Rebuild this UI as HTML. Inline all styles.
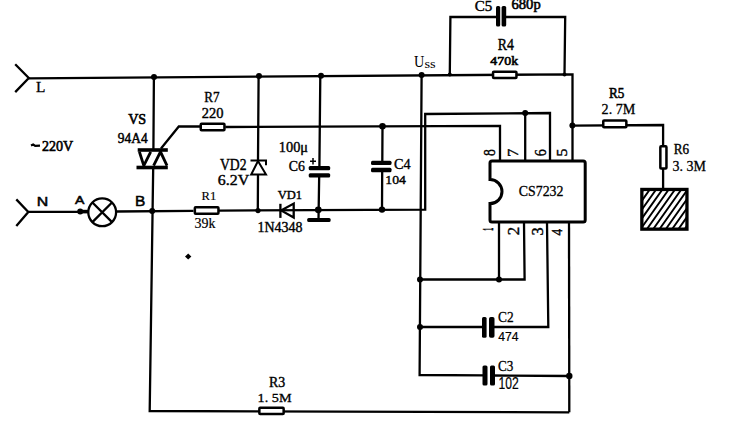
<!DOCTYPE html>
<html><head><meta charset="utf-8">
<style>
html,body{margin:0;padding:0;background:#fff;width:735px;height:430px;overflow:hidden}
svg{display:block}
</style></head><body>
<svg width="735" height="430" viewBox="0 0 735 430">
<g stroke="#000" stroke-width="2.3" fill="none" stroke-linecap="butt" stroke-linejoin="miter">
<!-- L connector -->
<path d="M15.2,64.2 L28.8,78 L15.2,92.1"/>
<!-- top L wire -->
<path d="M28.8,78.3 L572.5,74.3 L572.5,160.6"/>
<!-- C5 loop -->
<path d="M449.8,74.6 L450.4,17 L498.1,17 M504.2,17 L565.2,17 L564.5,74.4"/>
<!-- N connector -->
<path d="M16.3,199.4 L28.3,212 L16.3,226.1"/>
<path d="M28.3,211.8 L88,211.8"/>
<path d="M79,211.6 L88.5,211.6" stroke-width="3.6"/>
<!-- lamp -->
<circle cx="102.2" cy="212.3" r="13.9"/>
<path d="M92.4,202.5 L112,222.1 M112,202.5 L92.4,222.1"/>
<path d="M116.5,211.5 L193.5,210.8"/>
<!-- VS vertical -->
<path d="M153.9,77 L153.4,150 M153.2,167.5 L149.7,411 L569.3,412.3"/>
<!-- R7 gate -->
<path d="M161,148.5 L178.8,126.5 L200,126.5"/>
<path d="M225.3,127 L500,125.8 L500,160.6"/>
<!-- VD2 -->
<path d="M258.6,76 L258,161 M258,174.6 L257.8,210.8"/>
<!-- C6 -->
<path d="M320.3,75.8 L319.4,167 M319.2,175 L318.5,220"/>
<!-- C4 -->
<path d="M382.5,126.5 L382.3,162 M382.2,170 L382,209.6"/>
<!-- ground wire -->
<path d="M218.8,210.6 L425.2,209.6 L425.2,114 L550,113 L550,160.6"/>
<path d="M525.2,113.1 L525.2,160.6"/>
<!-- Uss vertical -->
<path d="M421.6,75 L419.6,375 L485,375.3 M492,375.5 L569.3,376"/>
<path d="M569,222.2 L569.3,412.3"/>
<path d="M420,279.5 L524.6,279.5 L524,222.2"/>
<path d="M499,222.2 L499,279.5"/>
<path d="M420,327 L484,327 M491,327 L548.3,327 L547,222.2"/>
<!-- R5 / R6 -->
<path d="M572.4,125.6 L663.1,125 L663.1,188.4"/>
</g>
<!-- plates / thick bars -->
<g fill="#000">
<!-- triac bars -->
<rect x="137.7" y="148.2" width="30.1" height="3.6"/>
<rect x="136.5" y="165.7" width="31.3" height="3.6"/>
<!-- C5 plates -->
<rect x="496" y="6.1" width="4.2" height="20.4" rx="1.5"/>
<rect x="501.6" y="6.1" width="4.6" height="20.4" rx="1.5"/>
<!-- C6 plates -->
<rect x="308.7" y="165.9" width="21.5" height="4.4" rx="1.5"/>
<rect x="308.7" y="173.2" width="21.5" height="4.4" rx="1.5"/>
<!-- ground bar -->
<rect x="307.2" y="217.9" width="23.4" height="4" rx="1.5"/>
<!-- C4 plates -->
<rect x="371" y="160.7" width="20.5" height="4.2" rx="1.5"/>
<rect x="371" y="167.7" width="20.5" height="4.6" rx="1.5"/>
<!-- C2 plates -->
<rect x="482" y="316.9" width="4.6" height="20.9" rx="1.5"/>
<rect x="489" y="316.9" width="5.5" height="20.9" rx="1.8"/>
<!-- C3 plates -->
<rect x="482.5" y="365.6" width="5" height="19.9" rx="1.5"/>
<rect x="490" y="365.6" width="5" height="19.9" rx="1.5"/>
<!-- junction dots -->
<circle cx="154" cy="77" r="3.0"/>
<circle cx="259" cy="76" r="3.0"/>
<circle cx="321" cy="75.8" r="3.0"/>
<circle cx="421.6" cy="75" r="3.0"/>
<circle cx="449.8" cy="74.6" r="2"/>
<circle cx="564.5" cy="74.4" r="2"/>
<circle cx="80.2" cy="211.5" r="3.0"/>
<circle cx="152.2" cy="211" r="3.0"/>
<circle cx="258" cy="210.6" r="2.6"/>
<circle cx="318.3" cy="209.8" r="3.4"/>
<circle cx="382" cy="209.6" r="3.2"/>
<circle cx="382.5" cy="126.3" r="3.3"/>
<circle cx="525.2" cy="113" r="3"/>
<circle cx="572.4" cy="125.6" r="3.0"/>
<circle cx="420" cy="279.5" r="3.0"/>
<circle cx="499" cy="279.5" r="3.0"/>
<circle cx="420" cy="327" r="3.0"/>
<circle cx="569.3" cy="376" r="3.2"/>
<path d="M188.2,253.6 L191.4,256.6 L188.2,259.6 L185,256.6Z"/>
</g>
<g stroke="#000" stroke-width="2" fill="none" stroke-linejoin="miter">
<path d="M310,161.2 L316,161.2 M313,158 L313,164.4" stroke-width="1.5"/>
<path d="M31,145.6 L33.2,144.6 L35.2,145.9 L40,145.6" stroke-width="2.2"/>
<!-- triac triangles -->
<path d="M139.4,151.8 L143.8,165.6 L150.7,151.8" stroke-width="2.8"/>
<path d="M153.6,165.6 L160.5,151.8 L167,165.6" stroke-width="2.8"/>
<!-- zener -->
<path d="M250.5,160.6 L266,160.6 L266,165.3"/>
<path d="M258,161 L251.2,174.6 L266,174.6 Z"/>
<!-- VD1 diode -->
<path d="M280.4,203.8 L280.4,217.9" stroke-width="2.3"/>
<path d="M281,210.4 L293.7,203.6 L293.7,217.6 Z" stroke-width="2.3"/>
<!-- resistors -->
<rect x="200.75" y="123.75" width="23.70" height="6.60" rx="0.8" fill="#fff" stroke-width="2.5"/>
<rect x="194.85" y="207.15" width="23.60" height="6.70" rx="0.8" fill="#fff" stroke-width="2.5"/>
<rect x="259.35" y="407.85" width="24.30" height="6.20" rx="0.8" fill="#fff" stroke-width="2.5"/>
<rect x="493.05" y="71.75" width="23.40" height="6.20" rx="0.8" fill="#fff" stroke-width="2.5"/>
<rect x="603.25" y="120.55" width="23.10" height="6.80" rx="0.8" fill="#fff" stroke-width="2.5"/>
<rect x="660.35" y="146.35" width="6.10" height="22.20" rx="0.8" fill="#fff" stroke-width="2.5"/>
</g>
<!-- IC body -->
<path d="M492,160.9 L583.2,160.9 Q585.2,160.9 585.2,162.9 L585.2,219.9 Q585.2,221.9 583.2,221.9 L492,221.9 Q490,221.9 490,219.9 L490,203.6 A12,12 0 0 0 490,179.6 L490,162.9 Q490,160.9 492,160.9 Z" stroke="#000" stroke-width="3" fill="#fff"/>
<!-- R6 box -->
<defs><clipPath id="hc"><rect x="642" y="189.5" width="45" height="39.5"/></clipPath></defs>
<g clip-path="url(#hc)" stroke="#000" stroke-width="1.9"><path d="M640.39,185 L604.93,235 M646.69,185 L611.23,235 M652.99,185 L617.53,235 M659.29,185 L623.83,235 M665.59,185 L630.13,235 M671.89,185 L636.43,235 M678.19,185 L642.73,235 M684.49,185 L649.03,235 M690.79,185 L655.33,235 M697.09,185 L661.63,235 M703.39,185 L667.93,235 M709.69,185 L674.23,235 M715.99,185 L680.53,235 M722.29,185 L686.83,235 M728.59,185 L693.13,235"/></g>
<rect x="641.85" y="189.45" width="45.1" height="39.7" stroke="#000" stroke-width="3.3" fill="none"/>


<g fill="#000">
<text transform="matrix(0.9901 0 0 1 35.89 91.95)" font-size="15.54" font-family="&quot;Liberation Serif&quot;" font-weight="normal" stroke="#000" stroke-width="0.3" xml:space="preserve">L</text>
<text transform="matrix(1.2321 0 0 1 36.68 206.45)" font-size="12.90" font-family="&quot;Liberation Sans&quot;" font-weight="normal" stroke="#000" stroke-width="0.5" xml:space="preserve">N</text>
<text transform="matrix(1.2627 0 0 1 74.95 203.95)" font-size="11.16" font-family="&quot;Liberation Sans&quot;" font-weight="normal" stroke="#000" stroke-width="0.5" xml:space="preserve">A</text>
<text transform="matrix(1.0675 0 0 1 135.11 206.35)" font-size="14.49" font-family="&quot;Liberation Sans&quot;" font-weight="normal" stroke="#000" stroke-width="0.5" xml:space="preserve">B</text>
<text transform="matrix(0.9708 0 0 1 41.94 150.71)" font-size="14.48" font-family="&quot;Liberation Serif&quot;" font-weight="normal" stroke="#000" stroke-width="0.6" xml:space="preserve">220V</text>
<text transform="matrix(1.0073 0 0 1 128.16 124.32)" font-size="14.03" font-family="&quot;Liberation Serif&quot;" font-weight="normal" stroke="#000" stroke-width="0.6" xml:space="preserve">VS</text>
<text transform="matrix(0.8974 0 0 1 117.85 143.20)" font-size="14.93" font-family="&quot;Liberation Serif&quot;" font-weight="normal" stroke="#000" stroke-width="0.5" xml:space="preserve">94A4</text>
<text transform="matrix(0.9000 0 0 1 204.31 102.00)" font-size="14.62" font-family="&quot;Liberation Serif&quot;" font-weight="normal" stroke="#000" stroke-width="0.4" xml:space="preserve">R7</text>
<text transform="matrix(1.0340 0 0 1 201.72 117.52)" font-size="14.03" font-family="&quot;Liberation Serif&quot;" font-weight="normal" stroke="#000" stroke-width="0.4" xml:space="preserve">220</text>
<text transform="matrix(1.0362 0 0 1 201.50 200.23)" font-size="12.20" font-family="&quot;Liberation Serif&quot;" font-weight="normal" stroke="#000" stroke-width="0.15" xml:space="preserve">R1</text>
<text transform="matrix(0.9800 0 0 1 194.50 227.66)" font-size="14.29" font-family="&quot;Liberation Serif&quot;" font-weight="normal" stroke="#000" stroke-width="0.2" xml:space="preserve">39k</text>
<text transform="matrix(0.8641 0 0 1 219.96 169.58)" font-size="15.82" font-family="&quot;Liberation Serif&quot;" font-weight="normal" stroke="#000" stroke-width="0.4" xml:space="preserve">VD2</text>
<text transform="matrix(1.0972 0 0 1 217.86 185.01)" font-size="14.48" font-family="&quot;Liberation Serif&quot;" font-weight="normal" stroke="#000" stroke-width="0.4" xml:space="preserve">6.2V</text>
<text transform="matrix(1.0130 0 0 1 277.77 198.55)" font-size="12.35" font-family="&quot;Liberation Serif&quot;" font-weight="normal" stroke="#000" stroke-width="0.4" xml:space="preserve">VD1</text>
<text transform="matrix(1.0007 0 0 1 257.44 231.62)" font-size="13.97" font-family="&quot;Liberation Serif&quot;" font-weight="normal" stroke="#000" stroke-width="0.4" xml:space="preserve">1N4348</text>
<text transform="matrix(1.0147 0 0 1 278.81 151.93)" font-size="14.14" font-family="&quot;Liberation Serif&quot;" font-weight="normal" stroke="#000" stroke-width="0.4" xml:space="preserve">100μ</text>
<text transform="matrix(0.8989 0 0 1 288.85 171.19)" font-size="15.37" font-family="&quot;Liberation Serif&quot;" font-weight="normal" stroke="#000" stroke-width="0.4" xml:space="preserve">C6</text>
<text transform="matrix(0.9259 0 0 1 393.93 169.49)" font-size="15.37" font-family="&quot;Liberation Serif&quot;" font-weight="normal" stroke="#000" stroke-width="0.4" xml:space="preserve">C4</text>
<text transform="matrix(1.0499 0 0 1 385.36 183.94)" font-size="13.09" font-family="&quot;Liberation Serif&quot;" font-weight="normal" stroke="#000" stroke-width="0.4" xml:space="preserve">104</text>
<text transform="matrix(0.8882 0 0 1 414.11 66.94)" font-size="16.06" font-family="&quot;Liberation Serif&quot;" font-weight="normal" xml:space="preserve">U</text>
<text transform="matrix(1.2150 0 0 1 424.42 67.78)" font-size="11.88" font-family="&quot;Liberation Serif&quot;" font-weight="normal" xml:space="preserve">ss</text>
<text transform="matrix(1.0839 0 0 1 474.70 10.72)" font-size="13.88" font-family="&quot;Liberation Serif&quot;" font-weight="normal" stroke="#000" stroke-width="0.4" xml:space="preserve">C5</text>
<text transform="matrix(1.0033 0 0 1 511.52 9.45)" font-size="14.53" font-family="&quot;Liberation Serif&quot;" font-weight="normal" stroke="#000" stroke-width="0.6" xml:space="preserve">680p</text>
<text transform="matrix(0.8486 0 0 1 497.78 49.50)" font-size="16.31" font-family="&quot;Liberation Serif&quot;" font-weight="normal" stroke="#000" stroke-width="0.4" xml:space="preserve">R4</text>
<text transform="matrix(1.0836 0 0 1 490.32 64.94)" font-size="12.82" font-family="&quot;Liberation Serif&quot;" font-weight="normal" stroke="#000" stroke-width="0.6" xml:space="preserve">470k</text>
<text transform="matrix(0.9989 0 0 1 518.80 195.57)" font-size="13.88" font-family="&quot;Liberation Serif&quot;" font-weight="normal" stroke="#000" stroke-width="0.3" xml:space="preserve">CS7232</text>
<text transform="matrix(0.8447 0 0 1 608.90 98.44)" font-size="15.61" font-family="&quot;Liberation Serif&quot;" font-weight="normal" stroke="#000" stroke-width="0.6" xml:space="preserve">R5</text>
<text transform="matrix(0.9720 0 0 1 601.58 114.40)" font-size="14.55" font-family="&quot;Liberation Serif&quot;" font-weight="normal" stroke="#000" stroke-width="0.3" xml:space="preserve">2. 7M</text>
<text transform="matrix(0.9375 0 0 1 673.81 154.22)" font-size="14.03" font-family="&quot;Liberation Serif&quot;" font-weight="normal" stroke="#000" stroke-width="0.4" xml:space="preserve">R6</text>
<text transform="matrix(0.9322 0 0 1 672.55 170.70)" font-size="15.00" font-family="&quot;Liberation Serif&quot;" font-weight="normal" stroke="#000" stroke-width="0.3" xml:space="preserve">3. 3M</text>
<text transform="matrix(0.8779 0 0 1 498.02 322.35)" font-size="15.22" font-family="&quot;Liberation Serif&quot;" font-weight="normal" stroke="#000" stroke-width="0.3" xml:space="preserve">C2</text>
<text transform="matrix(1.0084 0 0 1 498.26 340.62)" font-size="12.06" font-family="&quot;Liberation Sans&quot;" font-weight="normal" stroke="#000" stroke-width="0.2" xml:space="preserve">474</text>
<text transform="matrix(0.9554 0 0 1 498.03 370.58)" font-size="13.73" font-family="&quot;Liberation Serif&quot;" font-weight="normal" stroke="#000" stroke-width="0.3" xml:space="preserve">C3</text>
<text transform="matrix(0.7630 0 0 1 498.53 388.54)" font-size="15.92" font-family="&quot;Liberation Sans&quot;" font-weight="normal" stroke="#000" stroke-width="0.2" xml:space="preserve">102</text>
<text transform="matrix(0.9766 0 0 1 268.98 387.06)" font-size="14.24" font-family="&quot;Liberation Serif&quot;" font-weight="normal" stroke="#000" stroke-width="0.4" xml:space="preserve">R3</text>
<text transform="matrix(1.0593 0 0 1 257.57 402.32)" font-size="13.43" font-family="&quot;Liberation Serif&quot;" font-weight="normal" stroke="#000" stroke-width="0.3" xml:space="preserve">1. 5M</text>
<text transform="matrix(0 -0.8335 1 0 495.07 155.95)" font-size="16.57" font-family="&quot;Liberation Serif&quot;" font-weight="normal" stroke="#000" stroke-width="0.4" xml:space="preserve">8</text>
<text transform="matrix(0 -1.1685 1 0 518.30 156.72)" font-size="13.69" font-family="&quot;Liberation Serif&quot;" font-weight="normal" stroke="#000" stroke-width="0.4" xml:space="preserve">7</text>
<text transform="matrix(0 -0.8801 1 0 545.58 156.17)" font-size="16.12" font-family="&quot;Liberation Serif&quot;" font-weight="normal" stroke="#000" stroke-width="0.4" xml:space="preserve">6</text>
<text transform="matrix(0 -1.0353 1 0 566.65 156.56)" font-size="15.45" font-family="&quot;Liberation Serif&quot;" font-weight="normal" stroke="#000" stroke-width="0.4" xml:space="preserve">5</text>
<text transform="matrix(0 -0.3618 1 0 493.35 230.78)" font-size="14.78" font-family="&quot;Liberation Sans&quot;" font-weight="normal" stroke="#000" stroke-width="0.5" xml:space="preserve">1</text>
<text transform="matrix(0 -1.0271 1 0 518.80 235.37)" font-size="16.31" font-family="&quot;Liberation Serif&quot;" font-weight="normal" stroke="#000" stroke-width="0.4" xml:space="preserve">2</text>
<text transform="matrix(0 -1.0175 1 0 542.54 235.52)" font-size="16.06" font-family="&quot;Liberation Serif&quot;" font-weight="normal" stroke="#000" stroke-width="0.4" xml:space="preserve">3</text>
<text transform="matrix(0 -0.9472 1 0 562.30 235.57)" font-size="14.00" font-family="&quot;Liberation Serif&quot;" font-weight="normal" stroke="#000" stroke-width="0.4" xml:space="preserve">4</text>
</g>
</svg>
</body></html>
